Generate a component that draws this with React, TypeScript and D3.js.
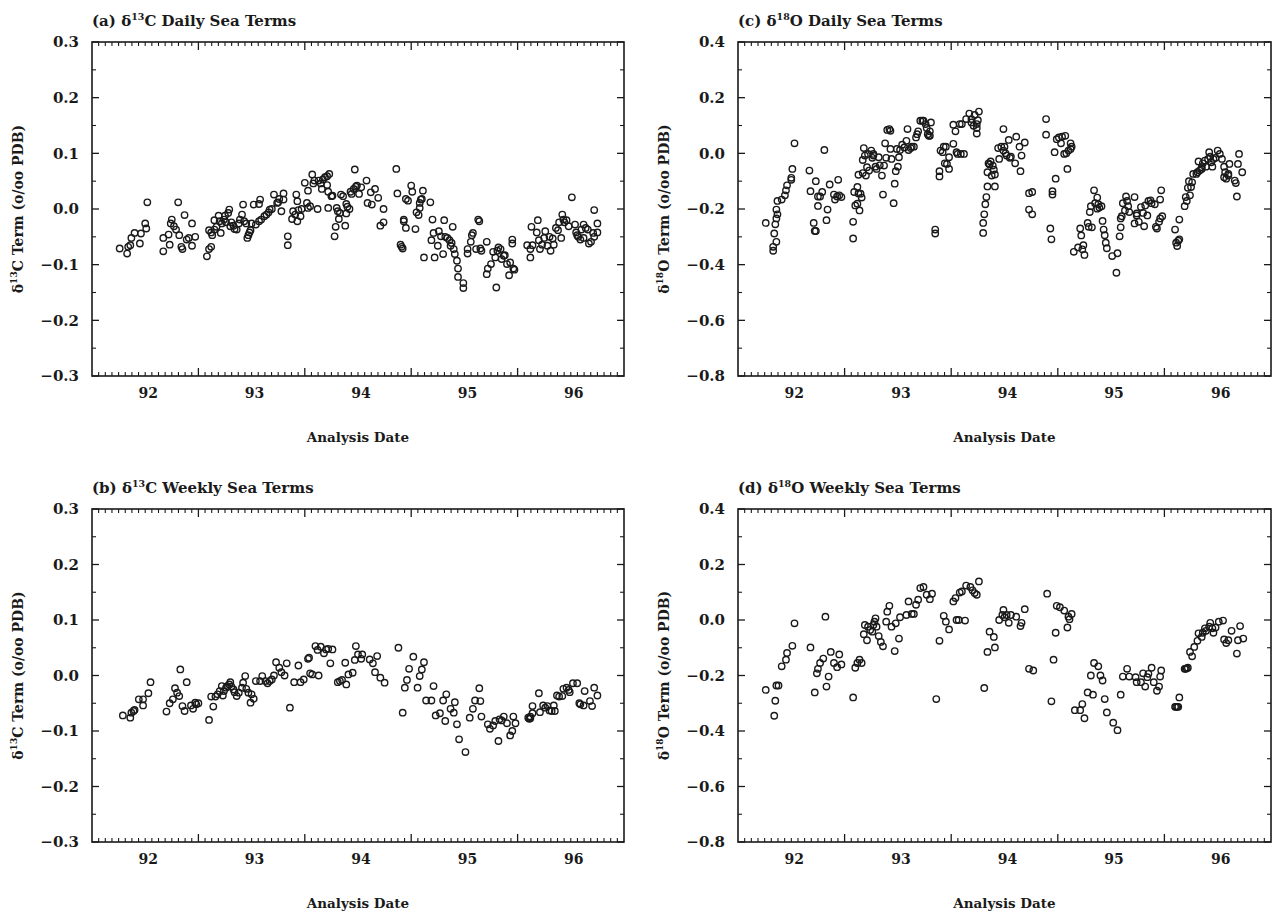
import React from "react";
import * as d3 from "d3";

// ---------- data ----------
const yearLabels = [92, 93, 94, 95, 96];
const c13Ticks = [-0.3, -0.2, -0.1, 0.0, 0.1, 0.2, 0.3];
const o18Ticks = [-0.8, -0.6, -0.4, -0.2, 0.0, 0.2, 0.4];

// [analysis date (decimal year, 19xx), sea term (o/oo PDB)]
const dailyC13: [number, number][] = [
  [91.76,-0.071],[91.83,-0.080],[91.84,-0.068],[91.86,-0.065],[91.87,-0.052],[91.90,-0.043],[91.95,-0.062],[91.96,-0.044],[92.00,-0.026],[92.01,-0.035],[92.02,0.012],
  [92.17,-0.076],[92.17,-0.052],[92.22,-0.046],[92.23,-0.064],[92.25,-0.019],[92.24,-0.026],[92.27,-0.031],[92.29,-0.037],[92.31,0.012],[92.32,-0.047],[92.34,-0.068],[92.35,-0.072],[92.37,-0.011],[92.39,-0.055],[92.41,-0.052],[92.44,-0.026],[92.44,-0.066],[92.47,-0.050],
  [92.58,-0.085],[92.60,-0.072],[92.62,-0.068],[92.60,-0.038],[92.62,-0.042],[92.63,-0.047],[92.65,-0.020],[92.65,-0.037],[92.67,-0.032],[92.69,-0.012],[92.70,-0.022],[92.71,-0.043],[92.72,-0.026],[92.74,-0.019],[92.75,-0.012],[92.76,-0.024],[92.78,-0.007],[92.79,-0.001],[92.80,-0.031],[92.81,-0.024],[92.83,-0.030],[92.84,-0.036],[92.86,-0.037],[92.88,-0.026],[92.89,-0.019],[92.91,-0.010],[92.92,0.008],[92.93,-0.022],[92.95,-0.026],[92.96,-0.052],[92.97,-0.047],[92.98,-0.042],[92.99,-0.038],[93.00,-0.026],[93.02,0.008],[93.04,-0.028],[93.07,0.009],[93.08,0.017],[93.07,-0.022],[93.09,-0.019],[93.12,-0.013],[93.14,-0.010],[93.16,-0.006],[93.17,-0.001],[93.19,0.000],[93.21,0.026],[93.24,0.011],[93.25,0.012],[93.26,0.018],[93.28,-0.004],[93.30,0.028],[93.30,0.017],[93.34,-0.049],[93.34,-0.065],[93.38,-0.018],[93.39,-0.004],[93.41,-0.010],[93.42,0.026],[93.43,0.014],[93.43,-0.022],[93.44,-0.002],[93.46,-0.013],[93.47,0.000],[93.50,0.047],[93.52,0.011],[93.53,0.033],[93.53,0.002],[93.55,0.005],[93.57,0.062],[93.58,0.046],[93.59,0.051],[93.62,0.000],[93.63,0.051],[93.65,0.046],[93.66,0.036],[93.67,0.053],[93.69,0.057],[93.71,0.059],[93.71,0.043],[93.72,0.031],[93.73,0.063],[93.75,0.023],[93.72,0.002],[93.76,0.024],[93.78,-0.049],[93.79,-0.032],[93.80,0.002],[93.81,-0.004],[93.82,-0.018],[93.83,-0.007],[93.84,0.026],[93.86,0.023],[93.88,-0.030],[93.89,-0.008],[93.89,0.009],[93.90,0.004],[93.92,0.000],[93.93,0.031],[93.94,0.027],[93.96,0.036],[93.97,0.071],[93.98,0.040],[93.99,0.042],[94.01,0.027],[94.03,0.039],[94.08,0.051],[94.09,0.011],[94.12,0.030],[94.13,0.008],[94.16,0.036],[94.19,0.020],[94.21,-0.030],[94.24,-0.024],[94.24,0.000],
  [94.36,0.072],[94.37,0.028],[94.40,-0.064],[94.41,-0.068],[94.42,-0.071],[94.43,-0.019],[94.43,-0.022],[94.45,-0.034],[94.45,0.018],[94.47,0.015],[94.50,0.042],[94.51,0.031],[94.54,-0.036],[94.55,-0.006],[94.57,-0.011],[94.58,0.002],[94.58,0.011],[94.59,0.017],[94.60,0.018],[94.61,0.033],[94.62,-0.087],[94.68,0.012],[94.69,-0.056],[94.70,-0.019],[94.71,-0.043],[94.72,-0.087],[94.75,-0.066],[94.76,-0.040],[94.78,-0.049],[94.80,-0.081],[94.81,-0.020],[94.82,-0.050],[94.84,-0.052],[94.86,-0.056],[94.87,-0.066],[94.88,-0.061],[94.89,-0.032],[94.90,-0.072],[94.91,-0.081],[94.93,-0.093],[94.94,-0.107],[94.94,-0.122],[94.99,-0.133],[94.99,-0.142],[95.03,-0.072],[95.03,-0.080],[95.06,-0.059],[95.07,-0.047],[95.08,-0.043],[95.11,-0.072],[95.13,-0.019],[95.14,-0.022],[95.15,-0.071],[95.16,-0.075],[95.21,-0.059],[95.21,-0.117],[95.22,-0.107],[95.25,-0.099],[95.27,-0.077],[95.29,-0.087],[95.30,-0.141],[95.31,-0.075],[95.32,-0.069],[95.34,-0.072],[95.35,-0.090],[95.37,-0.084],[95.38,-0.083],[95.40,-0.099],[95.42,-0.119],[95.43,-0.096],[95.45,-0.055],[95.45,-0.062],[95.46,-0.107],[95.47,-0.109],
  [95.59,-0.065],[95.62,-0.072],[95.62,-0.087],[95.63,-0.032],[95.64,-0.065],[95.68,-0.042],[95.69,-0.020],[95.70,-0.056],[95.71,-0.072],[95.73,-0.064],[95.75,-0.052],[95.76,-0.040],[95.78,-0.066],[95.80,-0.050],[95.81,-0.075],[95.83,-0.053],[95.84,-0.064],[95.86,-0.034],[95.88,-0.038],[95.89,-0.024],[95.91,-0.052],[95.92,-0.010],[95.93,-0.019],[95.94,-0.024],[95.96,-0.020],[95.98,-0.031],[96.01,0.021],[96.04,-0.028],[96.05,-0.042],[96.06,-0.047],[96.07,-0.050],[96.09,-0.055],[96.10,-0.037],[96.12,-0.052],[96.12,-0.028],[96.14,-0.034],[96.16,-0.037],[96.17,-0.062],[96.19,-0.059],[96.21,-0.043],[96.22,-0.002],[96.22,-0.050],[96.25,-0.026],[96.25,-0.042],
];

const weeklyC13: [number, number][] = [
  [91.79,-0.072],[91.86,-0.076],[91.87,-0.067],[91.89,-0.064],[91.90,-0.062],[91.94,-0.043],[91.98,-0.054],[91.98,-0.043],[92.03,-0.032],[92.05,-0.012],
  [92.20,-0.065],[92.23,-0.050],[92.26,-0.043],[92.28,-0.023],[92.30,-0.031],[92.32,-0.037],[92.33,0.011],[92.35,-0.055],[92.37,-0.064],[92.39,-0.012],[92.43,-0.054],[92.45,-0.060],[92.47,-0.049],[92.48,-0.052],[92.50,-0.050],
  [92.60,-0.080],[92.62,-0.038],[92.64,-0.056],[92.66,-0.038],[92.68,-0.034],[92.70,-0.028],[92.72,-0.019],[92.73,-0.036],[92.74,-0.028],[92.76,-0.022],[92.77,-0.019],[92.79,-0.016],[92.80,-0.012],[92.81,-0.020],[92.83,-0.025],[92.84,-0.030],[92.86,-0.037],[92.88,-0.031],[92.91,-0.022],[92.92,-0.013],[92.94,-0.001],[92.95,-0.024],[92.97,-0.031],[92.99,-0.049],[93.00,-0.034],[93.02,-0.042],[93.04,-0.010],[93.08,-0.010],[93.10,-0.001],[93.13,-0.010],[93.15,-0.014],[93.17,-0.010],[93.19,-0.007],[93.21,0.000],[93.23,0.024],[93.26,0.014],[93.28,0.006],[93.31,0.000],[93.33,0.022],[93.36,-0.058],[93.40,-0.012],[93.44,0.018],[93.46,-0.012],[93.49,-0.007],[93.53,0.030],[93.54,0.032],[93.55,0.004],[93.57,0.002],[93.60,0.053],[93.62,0.046],[93.63,0.000],[93.65,0.052],[93.68,0.040],[93.70,0.047],[93.72,0.048],[93.74,0.022],[93.76,0.047],[93.81,-0.012],[93.83,-0.010],[93.85,-0.008],[93.88,0.023],[93.89,-0.016],[93.91,0.002],[93.95,0.005],[93.97,0.028],[93.98,0.053],[94.00,0.038],
  [94.03,0.030],[94.04,0.038],[94.11,0.029],[94.14,0.022],[94.16,0.006],[94.18,0.035],[94.21,-0.004],[94.25,-0.013],
  [94.38,0.050],[94.42,-0.067],[94.44,-0.022],[94.46,-0.008],[94.48,0.012],[94.52,0.034],[94.56,-0.022],[94.58,-0.001],[94.60,0.011],[94.62,0.024],[94.64,-0.045],[94.69,-0.045],[94.71,-0.019],[94.73,-0.072],[94.77,-0.068],[94.80,-0.045],[94.82,-0.082],[94.83,-0.034],[94.87,-0.060],[94.90,-0.067],[94.91,-0.048],[94.93,-0.088],[94.95,-0.115],[95.01,-0.138],[95.05,-0.076],[95.08,-0.060],[95.10,-0.045],[95.14,-0.023],[95.15,-0.046],[95.16,-0.074],[95.22,-0.088],[95.24,-0.096],[95.27,-0.090],[95.29,-0.082],[95.32,-0.118],[95.33,-0.079],[95.35,-0.081],[95.37,-0.074],[95.40,-0.086],[95.43,-0.108],[95.45,-0.100],[95.46,-0.074],[95.48,-0.086],
  [95.60,-0.076],[95.61,-0.078],[95.62,-0.077],[95.62,-0.074],[95.64,-0.055],[95.64,-0.068],[95.70,-0.032],[95.71,-0.066],[95.74,-0.054],[95.76,-0.058],[95.78,-0.055],[95.80,-0.063],[95.82,-0.064],[95.84,-0.054],[95.85,-0.064],[95.87,-0.036],[95.89,-0.038],[95.92,-0.037],[95.93,-0.024],[95.96,-0.022],[95.98,-0.026],[95.99,-0.030],[96.02,-0.014],[96.06,-0.014],[96.08,-0.050],[96.09,-0.052],[96.12,-0.054],[96.13,-0.028],[96.18,-0.046],[96.20,-0.055],[96.22,-0.022],[96.25,-0.036],
];

const dailyO18: [number, number][] = [
  [91.76,-0.250],[91.83,-0.336],[91.83,-0.350],[91.84,-0.288],[91.86,-0.318],[91.85,-0.255],[91.86,-0.234],[91.87,-0.219],[91.86,-0.202],[91.87,-0.171],[91.91,-0.166],[91.94,-0.151],[91.95,-0.133],[91.96,-0.115],[92.00,-0.095],[92.00,-0.088],[92.01,-0.056],[92.03,0.036],
  [92.17,-0.062],[92.18,-0.136],[92.21,-0.250],[92.22,-0.279],[92.23,-0.279],[92.23,-0.100],[92.25,-0.189],[92.25,-0.155],[92.27,-0.155],[92.29,-0.139],[92.31,0.012],[92.33,-0.240],[92.34,-0.202],[92.36,-0.112],[92.40,-0.148],[92.41,-0.166],[92.43,-0.155],[92.44,-0.095],[92.45,-0.151],[92.47,-0.157],
  [92.58,-0.246],[92.58,-0.306],[92.59,-0.139],[92.60,-0.187],[92.62,-0.121],[92.62,-0.181],[92.63,-0.144],[92.64,-0.205],[92.65,-0.145],[92.66,-0.159],[92.63,-0.077],[92.67,-0.071],[92.67,-0.024],[92.68,0.019],[92.69,-0.008],[92.70,-0.080],[92.71,-0.050],[92.72,-0.002],[92.73,-0.062],[92.75,0.010],[92.76,-0.016],[92.77,-0.008],[92.77,-0.002],[92.79,-0.048],[92.80,-0.056],[92.82,-0.014],[92.83,-0.043],[92.85,-0.080],[92.86,-0.148],[92.87,-0.044],[92.88,0.036],[92.89,-0.016],[92.90,0.084],[92.92,0.087],[92.93,0.081],[92.94,-0.020],[92.93,0.016],[92.96,-0.179],[92.97,-0.109],[92.98,-0.064],[93.00,-0.048],[93.01,-0.014],[92.99,0.016],[93.02,0.012],[93.04,0.031],[93.06,0.021],[93.08,0.045],[93.09,0.087],[93.10,0.012],[93.12,0.019],[93.13,0.024],[93.15,0.024],[93.17,0.057],[93.18,0.069],[93.19,0.079],[93.21,0.117],[93.23,0.117],[93.24,0.117],[93.26,0.105],[93.27,0.091],[93.28,0.069],[93.29,0.063],[93.30,0.079],[93.30,0.063],[93.31,0.111],[93.35,-0.274],[93.35,-0.288],[93.39,-0.083],[93.39,-0.064],[93.40,0.010],[93.42,0.004],[93.43,0.024],[93.44,-0.036],[93.45,0.024],[93.46,-0.038],[93.48,-0.014],[93.48,-0.056],[93.52,0.103],[93.52,0.034],[93.54,0.079],[93.55,0.004],[93.56,-0.002],[93.58,0.105],[93.59,-0.002],[93.60,0.105],[93.62,-0.002],[93.64,0.123],[93.67,0.143],[93.69,0.111],[93.69,0.123],[93.71,0.099],[93.72,0.138],[93.74,0.091],[93.74,0.071],[93.74,0.105],[93.75,0.119],[93.76,0.150],[93.80,-0.286],[93.80,-0.250],[93.81,-0.219],[93.82,-0.183],[93.83,-0.157],[93.84,-0.119],[93.84,-0.068],[93.85,-0.036],
  [93.86,-0.040],[93.87,-0.029],[93.89,-0.044],[93.90,-0.059],[93.91,-0.076],[93.91,-0.119],[93.88,-0.080],[93.94,0.019],[93.95,-0.020],[93.97,0.024],[93.99,0.010],[93.99,0.087],[94.00,0.024],[94.01,0.000],[94.02,-0.008],[94.04,0.048],[94.05,-0.016],[94.06,-0.012],[94.10,-0.036],[94.11,0.060],[94.14,0.024],[94.15,-0.064],[94.16,-0.008],[94.19,0.039],[94.23,-0.143],[94.23,-0.202],[94.26,-0.139],[94.26,-0.219],
  [94.39,0.123],[94.39,0.067],[94.43,-0.270],[94.44,-0.309],[94.45,-0.136],[94.45,-0.148],[94.47,0.004],[94.48,-0.091],[94.49,0.051],[94.51,0.057],[94.53,0.036],[94.54,0.060],[94.56,-0.002],[94.57,0.063],[94.58,0.000],[94.59,-0.056],[94.60,0.010],[94.62,0.016],[94.62,0.036],[94.63,0.024],
  [94.65,-0.354],[94.69,-0.338],[94.71,-0.270],[94.72,-0.295],[94.73,-0.345],[94.74,-0.330],[94.75,-0.365],[94.78,-0.250],[94.79,-0.264],[94.80,-0.211],[94.81,-0.190],[94.82,-0.266],[94.84,-0.133],[94.85,-0.179],[94.87,-0.159],[94.87,-0.199],[94.88,-0.183],[94.89,-0.195],[94.91,-0.190],[94.92,-0.243],[94.93,-0.274],[94.94,-0.294],[94.95,-0.321],[94.96,-0.341],[95.01,-0.369],[95.05,-0.429],[95.06,-0.359],[95.08,-0.298],[95.09,-0.266],[95.09,-0.234],[95.10,-0.226],[95.11,-0.179],[95.13,-0.205],[95.14,-0.155],[95.15,-0.171],[95.16,-0.190],[95.17,-0.211],[95.22,-0.252],[95.22,-0.157],[95.24,-0.223],[95.24,-0.216],[95.26,-0.246],[95.28,-0.193],[95.30,-0.214],[95.31,-0.262],[95.32,-0.187],[95.34,-0.223],[95.35,-0.171],[95.37,-0.169],[95.38,-0.179],[95.41,-0.183],[95.42,-0.264],[95.43,-0.270],[95.45,-0.246],[95.46,-0.234],[95.46,-0.166],[95.47,-0.133],[95.48,-0.226],
  [95.60,-0.274],[95.61,-0.321],[95.62,-0.333],[95.63,-0.314],[95.64,-0.309],[95.64,-0.238],[95.69,-0.190],[95.70,-0.157],[95.71,-0.171],[95.72,-0.124],[95.73,-0.100],[95.74,-0.151],[95.75,-0.121],[95.76,-0.104],[95.77,-0.074],[95.80,-0.074],[95.81,-0.068],[95.82,-0.029],[95.83,-0.062],[95.85,-0.056],[95.85,-0.050],[95.86,-0.036],[95.88,-0.026],[95.89,-0.048],[95.91,-0.020],[95.92,0.004],[95.93,-0.012],[95.94,-0.032],[95.95,-0.048],[95.96,-0.020],[95.98,-0.016],[96.00,0.010],[96.02,-0.002],[96.04,-0.020],[96.06,-0.048],[96.06,-0.086],[96.07,-0.068],[96.08,-0.091],[96.10,-0.074],[96.10,-0.080],[96.11,-0.038],[96.16,-0.098],[96.17,-0.107],[96.18,-0.155],[96.19,-0.038],[96.20,-0.002],[96.23,-0.068],
];

const weeklyO18: [number, number][] = [
  [91.76,-0.252],[91.84,-0.345],[91.85,-0.291],[91.86,-0.236],[91.88,-0.236],[91.91,-0.167],[91.95,-0.143],[91.96,-0.119],[92.01,-0.093],[92.03,-0.012],
  [92.18,-0.099],[92.22,-0.261],[92.24,-0.192],[92.25,-0.176],[92.27,-0.155],[92.30,-0.139],[92.32,0.012],[92.33,-0.240],[92.35,-0.204],[92.37,-0.115],[92.40,-0.155],[92.43,-0.170],[92.45,-0.124],[92.47,-0.160],
  [92.58,-0.279],[92.60,-0.172],[92.62,-0.155],[92.64,-0.143],[92.66,-0.155],[92.68,-0.051],[92.69,-0.018],[92.71,-0.073],[92.72,-0.024],[92.74,-0.036],[92.76,-0.042],[92.77,-0.018],[92.78,-0.006],[92.79,0.006],[92.80,-0.024],[92.82,-0.058],[92.84,-0.079],[92.86,-0.095],[92.89,-0.006],[92.90,0.030],[92.92,0.051],[92.94,-0.024],[92.97,-0.112],[92.98,-0.012],[93.01,-0.067],[93.02,0.010],[93.08,0.018],[93.10,0.067],[93.13,0.022],[93.15,0.022],[93.17,0.055],[93.19,0.073],[93.21,0.115],[93.24,0.119],[93.27,0.091],[93.30,0.075],[93.32,0.095],[93.36,-0.285],[93.39,-0.075],[93.43,0.015],[93.45,-0.006],[93.48,-0.034],[93.52,0.067],[93.54,0.079],[93.55,0.000],[93.57,0.000],[93.58,0.099],[93.60,0.103],[93.63,-0.002],[93.64,0.124],[93.68,0.119],[93.70,0.107],[93.72,0.097],[93.74,0.091],[93.76,0.139],[93.81,-0.245],[93.84,-0.115],[93.86,-0.042],
  [93.90,-0.061],[93.91,-0.099],[93.95,0.000],[93.98,0.018],[93.99,0.036],[94.00,0.010],[94.02,0.018],[94.04,-0.010],[94.06,0.018],[94.11,0.012],[94.15,-0.022],[94.16,-0.010],[94.19,0.039],[94.23,-0.176],[94.27,-0.182],
  [94.40,0.095],[94.44,-0.293],[94.46,-0.143],[94.48,-0.046],[94.49,0.051],[94.52,0.046],[94.56,0.034],[94.59,-0.027],[94.60,0.012],[94.61,0.003],[94.63,0.022],
  [94.66,-0.325],[94.71,-0.325],[94.73,-0.303],[94.75,-0.354],[94.78,-0.261],[94.81,-0.200],[94.83,-0.269],[94.84,-0.155],[94.88,-0.167],[94.90,-0.200],[94.92,-0.218],[94.94,-0.285],[94.96,-0.333],[95.02,-0.370],[95.06,-0.397],[95.09,-0.269],[95.11,-0.204],[95.15,-0.176],[95.17,-0.204],[95.23,-0.206],[95.24,-0.224],[95.28,-0.224],[95.30,-0.192],[95.32,-0.240],[95.34,-0.206],[95.35,-0.194],[95.38,-0.172],[95.40,-0.224],[95.43,-0.255],[95.45,-0.240],[95.46,-0.204],[95.47,-0.182],
  [95.60,-0.313],[95.61,-0.313],[95.62,-0.313],[95.63,-0.313],[95.64,-0.279],[95.69,-0.176],[95.70,-0.176],[95.71,-0.174],[95.72,-0.172],[95.74,-0.115],[95.76,-0.131],[95.78,-0.097],[95.81,-0.075],[95.82,-0.048],[95.85,-0.061],[95.86,-0.046],[95.88,-0.030],[95.89,-0.039],[95.92,-0.024],[95.93,-0.010],[95.95,-0.030],[95.96,-0.046],[95.98,-0.027],[96.01,-0.006],[96.05,-0.002],[96.06,-0.070],[96.08,-0.083],[96.10,-0.073],[96.13,-0.039],[96.18,-0.121],[96.19,-0.073],[96.21,-0.022],[96.24,-0.067],
];

// ---------- drawing ----------
const FONT = "'DejaVu Serif', 'Liberation Serif', serif";
const INK = "#1a1a1a";

type PanelProps = {
  letter: string;
  sup: string;
  elem: string;
  kind: string;
  data: [number, number][];
  yTicks: number[];
  left: number;
  right: number;
  top: number;
  bottom: number;
};

function fmt(v: number) {
  const s = Math.abs(v).toFixed(1);
  return v < -1e-9 ? "\u2212" + s : s;
}

function Panel({ letter, sup, elem, kind, data, yTicks, left, right, top, bottom }: PanelProps) {
  const x = d3.scaleLinear().domain([91.5, 96.5]).range([left, right]);
  const y = d3.scaleLinear().domain([yTicks[0], yTicks[yTicks.length - 1]]).range([bottom, top]);
  const step = yTicks[1] - yTicks[0];
  const yMinor = d3.range(yTicks.length - 1).map((i) => yTicks[i] + step / 2);
  const xMinor = d3.range(1, 80).map((i) => 91.5 + i / 16).filter((v) => Math.abs(v - Math.round(v - 0.5) - 0.5) > 1e-6);
  const xMajor = [92.5, 93.5, 94.5, 95.5];
  const cx = (left + right) / 2;
  const cy = (top + bottom) / 2;
  return (
    <g>
      <text x={left} y={top - 16} fontFamily={FONT} fontWeight="bold" fontSize={15} fill={INK}>
        {`(${letter}) \u03b4`}
        <tspan fontSize={9.5} dy={-6}>{sup}</tspan>
        <tspan dy={6}>{`${elem} ${kind} Sea Terms`}</tspan>
      </text>
      {/* frame */}
      <rect x={left} y={top} width={right - left} height={bottom - top} fill="none" stroke={INK} strokeWidth={1.6} />
      {/* x ticks */}
      {xMinor.map((v, i) => (
        <g key={"xm" + i} stroke={INK} strokeWidth={1.1}>
          <line x1={x(v)} x2={x(v)} y1={bottom} y2={bottom - 4} />
          <line x1={x(v)} x2={x(v)} y1={top} y2={top + 4} />
        </g>
      ))}
      {xMajor.map((v, i) => (
        <g key={"xM" + i} stroke={INK} strokeWidth={1.3}>
          <line x1={x(v)} x2={x(v)} y1={bottom} y2={bottom - 8} />
          <line x1={x(v)} x2={x(v)} y1={top} y2={top + 8} />
        </g>
      ))}
      {/* y ticks */}
      {yTicks.map((v, i) => (
        <g key={"yM" + i} stroke={INK} strokeWidth={1.3}>
          <line x1={left} x2={left + 7} y1={y(v)} y2={y(v)} />
          <line x1={right} x2={right - 7} y1={y(v)} y2={y(v)} />
        </g>
      ))}
      {yMinor.map((v, i) => (
        <g key={"ym" + i} stroke={INK} strokeWidth={1.1}>
          <line x1={left} x2={left + 4} y1={y(v)} y2={y(v)} />
          <line x1={right} x2={right - 4} y1={y(v)} y2={y(v)} />
        </g>
      ))}
      {/* tick labels */}
      {yTicks.map((v, i) => (
        <text key={"yl" + i} x={left - 13} y={y(v)} dy="0.36em" textAnchor="end" fontFamily={FONT} fontWeight="bold" fontSize={15} fill={INK}>
          {fmt(v)}
        </text>
      ))}
      {yearLabels.map((v, i) => (
        <text key={"xl" + i} x={x(v) + 3} y={bottom + 22} textAnchor="middle" fontFamily={FONT} fontWeight="bold" fontSize={14} fill={INK}>
          {v}
        </text>
      ))}
      {/* axis titles */}
      <text x={cx} y={bottom + 66} textAnchor="middle" fontFamily={FONT} fontWeight="bold" fontSize={13.5} fill={INK}>
        Analysis Date
      </text>
      <text transform={`translate(${left - 69},${cy}) rotate(-90)`} textAnchor="middle" fontFamily={FONT} fontWeight="bold" fontSize={14} fill={INK}>
        {"\u03b4"}
        <tspan fontSize={9} dy={-6}>{sup}</tspan>
        <tspan dy={6}>{`${elem} Term (o/oo PDB)`}</tspan>
      </text>
      {/* points */}
      {data.map((d, i) => (
        <circle key={"p" + i} cx={x(d[0])} cy={y(d[1])} r={3.2} fill="none" stroke={INK} strokeWidth={1.4} />
      ))}
    </g>
  );
}

export default function App() {
  return (
    <svg width={1274} height={913} style={{ position: "absolute", left: 0, top: 0, background: "#fff" }}>
      <rect width={1274} height={913} fill="#fff" />
      <Panel letter="a" sup="13" elem="C" kind="Daily" data={dailyC13} yTicks={c13Ticks} left={92} right={624} top={42} bottom={376} />
      <Panel letter="b" sup="13" elem="C" kind="Weekly" data={weeklyC13} yTicks={c13Ticks} left={92} right={624} top={509} bottom={842} />
      <Panel letter="c" sup="18" elem="O" kind="Daily" data={dailyO18} yTicks={o18Ticks} left={738} right={1271} top={42} bottom={376} />
      <Panel letter="d" sup="18" elem="O" kind="Weekly" data={weeklyO18} yTicks={o18Ticks} left={738} right={1271} top={509} bottom={842} />
    </svg>
  );
}
